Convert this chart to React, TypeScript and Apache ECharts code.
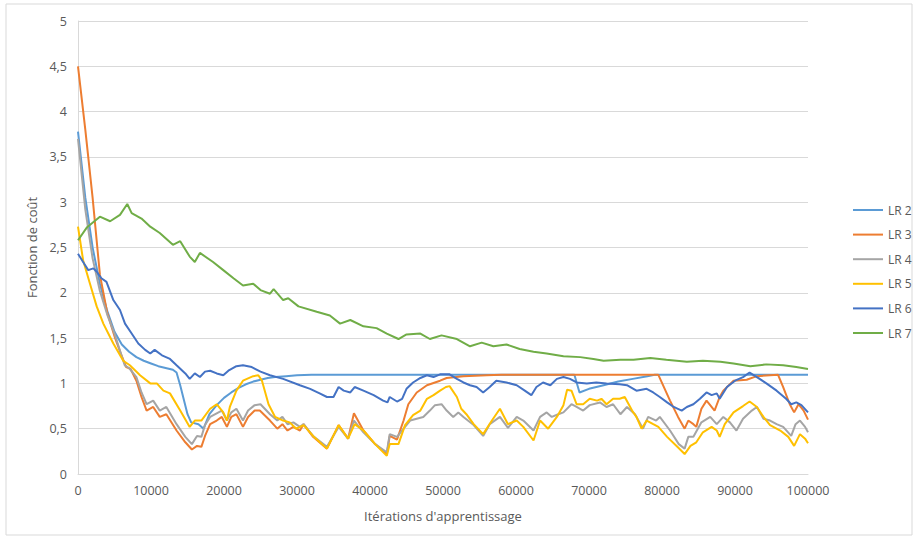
import React, { useEffect, useRef } from "react";
import * as echarts from "echarts";

const seriesNames = ["LR 2", "LR 3", "LR 4", "LR 5", "LR 6", "LR 7"];
const seriesColors = ["#5B9BD5", "#ED7D31", "#A5A5A5", "#FFC000", "#4472C4", "#70AD47"];

const xTicks = [0, 10000, 20000, 30000, 40000, 50000, 60000, 70000, 80000, 90000, 100000];
const yTicks = [0, 0.5, 1, 1.5, 2, 2.5, 3, 3.5, 4, 4.5, 5];

const lr2 = [[0,3.78],[1000,3.05],[2000,2.5],[3000,2.1],[4000,1.8],[5000,1.57],[6000,1.43],[7000,1.35],[8000,1.29],[9000,1.25],[10000,1.22],[11000,1.19],[12000,1.17],[13000,1.15],[13500,1.12],[14000,0.98],[15000,0.66],[15500,0.57],[16500,0.55],[17200,0.5],[18000,0.66],[19000,0.76],[20000,0.84],[21000,0.9],[22000,0.95],[23000,0.99],[24000,1.02],[25000,1.04],[26000,1.06],[27000,1.07],[28500,1.08],[30000,1.09],[32000,1.095],[68000,1.095],[68700,0.9],[70000,0.94],[72000,0.98],[74000,1.02],[76000,1.05],[78000,1.08],[79000,1.095],[100000,1.095]];

const lr3 = [[0,4.5],[1000,3.8],[2000,3.05],[3000,2.2],[4000,1.78],[5000,1.52],[6000,1.3],[6600,1.18],[7200,1.16],[8000,1.03],[8700,0.85],[9400,0.7],[10300,0.74],[11200,0.63],[12100,0.66],[13500,0.48],[14700,0.35],[15600,0.27],[16300,0.31],[16900,0.3],[17400,0.42],[18100,0.55],[19000,0.59],[19700,0.63],[20400,0.52],[21000,0.63],[21700,0.66],[22600,0.52],[23300,0.63],[24200,0.7],[24900,0.7],[26300,0.59],[27300,0.5],[28000,0.55],[28700,0.48],[29500,0.52],[30400,0.48],[30900,0.55],[32200,0.41],[34100,0.28],[35700,0.54],[37000,0.39],[37800,0.67],[39100,0.48],[40700,0.33],[42300,0.22],[42700,0.42],[43700,0.38],[44600,0.59],[45250,0.77],[46400,0.9],[47800,0.98],[49600,1.03],[50500,1.06],[52800,1.08],[56000,1.09],[58000,1.095],[79500,1.095],[81100,0.81],[82200,0.63],[83100,0.5],[83600,0.59],[84300,0.55],[84700,0.52],[85400,0.72],[86100,0.81],[86600,0.76],[87200,0.7],[87900,0.85],[88400,0.92],[89800,1.03],[91600,1.04],[93000,1.08],[94800,1.09],[95900,1.095],[96600,0.96],[97500,0.77],[98100,0.68],[98700,0.77],[99400,0.7],[100000,0.6]];

const lr4 = [[0,3.7],[1000,2.92],[2000,2.38],[3000,2.02],[4000,1.76],[5000,1.55],[6000,1.3],[6400,1.2],[7000,1.17],[8000,1.07],[8700,0.9],[9400,0.77],[10300,0.81],[11200,0.7],[12100,0.74],[13500,0.55],[14700,0.41],[15600,0.33],[16300,0.42],[16900,0.41],[17400,0.54],[18100,0.63],[19000,0.67],[19700,0.7],[20400,0.59],[21000,0.68],[21700,0.72],[22600,0.59],[23300,0.7],[24200,0.76],[25000,0.77],[26300,0.66],[27300,0.59],[28000,0.63],[28700,0.55],[29500,0.57],[30400,0.52],[30900,0.55],[32200,0.42],[34100,0.3],[35700,0.52],[37000,0.39],[37800,0.59],[39100,0.46],[40700,0.33],[42300,0.24],[42700,0.44],[43700,0.41],[44600,0.5],[45500,0.59],[46400,0.61],[47300,0.63],[48200,0.7],[48900,0.76],[49800,0.77],[50500,0.7],[51400,0.63],[52100,0.68],[52800,0.63],[54200,0.54],[55500,0.42],[56400,0.55],[57800,0.63],[58900,0.51],[60100,0.63],[61000,0.59],[62400,0.48],[63300,0.63],[64200,0.68],[64900,0.63],[65800,0.66],[66500,0.68],[67600,0.77],[68300,0.74],[69200,0.7],[70100,0.76],[71500,0.79],[72400,0.74],[73300,0.77],[74300,0.66],[75200,0.74],[76300,0.66],[77400,0.5],[78100,0.63],[79200,0.59],[79700,0.63],[81100,0.48],[82300,0.33],[83100,0.28],[83600,0.41],[84300,0.41],[85400,0.57],[86600,0.63],[87500,0.55],[88400,0.63],[89300,0.57],[90200,0.48],[91100,0.61],[92300,0.7],[93000,0.74],[93900,0.61],[94800,0.59],[95700,0.55],[96600,0.52],[97700,0.42],[98300,0.55],[98900,0.59],[99600,0.52],[100000,0.46]];

const lr5 = [[0,2.73],[700,2.36],[1640,2.1],[2560,1.85],[3470,1.66],[4840,1.44],[6200,1.25],[7100,1.2],[8500,1.09],[9900,1.0],[10800,1.0],[11700,0.92],[12600,0.89],[14000,0.7],[15300,0.52],[16000,0.59],[16900,0.59],[18100,0.72],[19000,0.77],[19900,0.68],[20400,0.59],[20800,0.74],[21700,0.92],[22600,1.03],[24000,1.08],[24700,1.09],[25200,1.03],[26100,0.77],[27000,0.63],[28100,0.59],[29000,0.57],[29900,0.5],[30900,0.54],[32200,0.42],[34100,0.28],[35700,0.54],[37000,0.39],[37900,0.55],[39100,0.48],[40700,0.33],[42300,0.2],[42700,0.33],[43900,0.33],[44800,0.54],[45900,0.65],[46900,0.7],[47800,0.83],[48700,0.87],[49600,0.92],[50400,0.96],[50900,0.97],[51900,0.85],[52500,0.72],[53200,0.66],[54200,0.55],[55500,0.44],[56700,0.59],[57800,0.72],[58900,0.55],[60100,0.59],[61000,0.52],[62400,0.37],[63300,0.59],[64400,0.5],[65600,0.63],[66500,0.76],[67000,0.93],[67600,0.92],[68300,0.77],[69200,0.77],[70100,0.83],[71100,0.81],[71700,0.83],[72400,0.77],[73300,0.83],[74200,0.83],[74900,0.85],[75900,0.7],[76500,0.63],[77200,0.5],[77900,0.59],[78800,0.55],[79500,0.52],[80700,0.41],[82100,0.3],[83100,0.22],[83900,0.31],[84700,0.35],[85600,0.46],[86800,0.52],[87500,0.48],[87900,0.41],[88600,0.55],[89800,0.68],[91100,0.75],[92000,0.8],[93000,0.74],[93900,0.63],[94800,0.54],[96200,0.48],[97300,0.41],[98100,0.31],[98900,0.44],[99600,0.39],[100000,0.34]];

const lr6 = [[0,2.43],[700,2.34],[1400,2.25],[2100,2.27],[2600,2.23],[3200,2.16],[3900,2.12],[4840,1.92],[5750,1.81],[6440,1.66],[7350,1.55],[8260,1.44],[9200,1.37],[9900,1.33],[10500,1.37],[11500,1.31],[12600,1.27],[13500,1.2],[14700,1.11],[15300,1.05],[16000,1.11],[16700,1.07],[17400,1.13],[18100,1.14],[19000,1.11],[19900,1.09],[20600,1.14],[21700,1.19],[22600,1.2],[23800,1.18],[25000,1.13],[26300,1.09],[28100,1.05],[30400,0.98],[31800,0.94],[33100,0.89],[34100,0.85],[35000,0.85],[35700,0.96],[36400,0.92],[37300,0.9],[37900,0.96],[39100,0.92],[40500,0.87],[41800,0.81],[42400,0.79],[42700,0.85],[43700,0.8],[44400,0.83],[45000,0.94],[45900,1.01],[46900,1.06],[47800,1.09],[48700,1.07],[49600,1.1],[50900,1.1],[51900,1.05],[52800,1.01],[53700,0.98],[54600,0.96],[55500,0.9],[56400,0.96],[57300,1.03],[58700,1.01],[60100,0.98],[61200,0.92],[62100,0.87],[62800,0.96],[63700,1.01],[64700,0.98],[65600,1.05],[66500,1.07],[67400,1.05],[68300,1.01],[69700,1.0],[71000,1.01],[72400,1.0],[74200,0.99],[75200,0.98],[76500,0.92],[77900,0.94],[78800,0.9],[79700,0.85],[80700,0.79],[81600,0.74],[82700,0.7],[83400,0.74],[84300,0.77],[85200,0.83],[86100,0.9],[86800,0.87],[87500,0.89],[87900,0.83],[88900,0.96],[90000,1.03],[91100,1.07],[92000,1.12],[93000,1.07],[94300,1.0],[95700,0.92],[97000,0.83],[97700,0.77],[98400,0.79],[99100,0.76],[100000,0.68]];

const lr7 = [[0,2.58],[1200,2.72],[3000,2.84],[4400,2.79],[5750,2.86],[6750,2.98],[7350,2.88],[8700,2.82],[9900,2.73],[11200,2.66],[13000,2.53],[14000,2.57],[15300,2.4],[16000,2.34],[16700,2.44],[18500,2.34],[19900,2.25],[21300,2.16],[22600,2.08],[24000,2.1],[25000,2.03],[26300,1.99],[26800,2.04],[28100,1.92],[28800,1.94],[30200,1.85],[32700,1.79],[34500,1.75],[35900,1.66],[37300,1.7],[39100,1.63],[40900,1.61],[42300,1.55],[43900,1.49],[45000,1.54],[46900,1.55],[48200,1.49],[49800,1.53],[51900,1.49],[53700,1.41],[55300,1.45],[56900,1.41],[58700,1.43],[60500,1.38],[62400,1.35],[64200,1.33],[66500,1.3],[68800,1.29],[70600,1.27],[72000,1.25],[74300,1.26],[76100,1.26],[78400,1.28],[80600,1.26],[83400,1.24],[85600,1.25],[88000,1.24],[89800,1.22],[92100,1.19],[94300,1.21],[96600,1.2],[98400,1.18],[100000,1.16]];

const allData = [lr2, lr3, lr4, lr5, lr6, lr7];

const FONT = "'Open Sans', sans-serif";
const TEXT = "#595959";
const GRID = "#d9d9d9";

export default function App() {
  const ref = useRef<HTMLDivElement>(null);
  useEffect(() => {
    if (!ref.current) return;
    const chart = echarts.init(ref.current, null, { renderer: "svg" });
    chart.setOption({
      animation: false,
      backgroundColor: "#ffffff",
      textStyle: { fontFamily: FONT },
      graphic: [
        {
          type: "rect",
          shape: { x: 6, y: 4, width: 906, height: 531 },
          style: { fill: "none", stroke: GRID, lineWidth: 1 },
          silent: true,
        },
      ],
      grid: { left: 78, right: 107, top: 21, bottom: 65 },
      legend: {
        orient: "vertical",
        left: 853,
        top: 204,
        padding: 0,
        icon: "rect",
        itemWidth: 30,
        itemHeight: 2,
        itemGap: 12.6,
        data: seriesNames,
        textStyle: { color: TEXT, fontSize: 12, fontFamily: FONT },
      },
      xAxis: {
        type: "value",
        min: xTicks[0],
        max: xTicks[xTicks.length - 1],
        interval: xTicks[1] - xTicks[0],
        name: "Itérations d'apprentissage",
        nameLocation: "middle",
        nameGap: 35,
        nameTextStyle: { color: TEXT, fontSize: 13, fontFamily: FONT },
        axisLine: { show: true, lineStyle: { color: GRID, width: 1 } },
        axisTick: { show: false },
        splitLine: { show: false },
        axisLabel: {
          color: TEXT,
          fontSize: 12.5,
          fontFamily: FONT,
          margin: 10,
          formatter: (v: number) => String(v),
        },
      },
      yAxis: {
        type: "value",
        min: yTicks[0],
        max: yTicks[yTicks.length - 1],
        interval: yTicks[1] - yTicks[0],
        name: "Fonction de coût",
        nameLocation: "middle",
        nameGap: 39,
        nameTextStyle: { color: TEXT, fontSize: 13, fontFamily: FONT },
        axisLine: { show: true, lineStyle: { color: GRID, width: 1 } },
        axisTick: { show: false },
        splitLine: { show: true, lineStyle: { color: GRID, width: 1 } },
        axisLabel: {
          color: TEXT,
          fontSize: 12.5,
          fontFamily: FONT,
          margin: 11,
          formatter: (v: number) => String(v).replace(".", ","),
        },
      },
      series: seriesNames.map((name, i) => ({
        name,
        type: "line",
        data: allData[i],
        symbol: "none",
        showSymbol: false,
        lineStyle: { color: seriesColors[i], width: 2 },
        itemStyle: { color: seriesColors[i] },
      })),
    });
    return () => chart.dispose();
  }, []);
  return <div ref={ref} style={{ width: 915, height: 539, position: "absolute", left: 0, top: 0 }} />;
}
